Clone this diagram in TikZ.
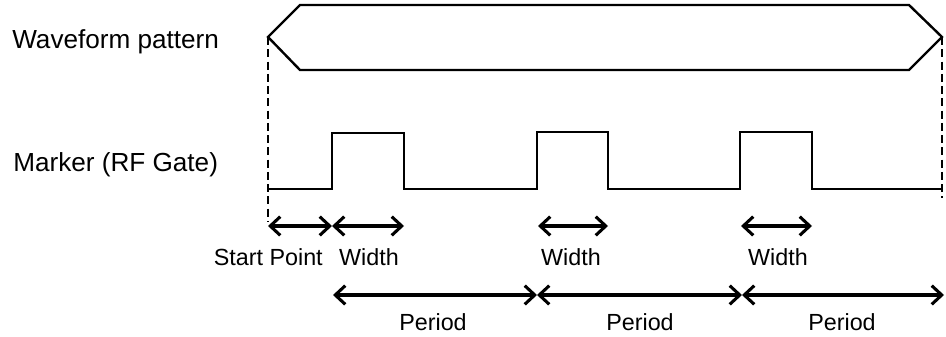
\documentclass[tikz,border=0pt]{standalone}
\usepackage{fontspec}
\setmainfont{Liberation Sans}
\usetikzlibrary{arrows.meta}
\begin{document}
\begin{tikzpicture}[x=0.75pt,y=-0.75pt,
  wave/.style={line width=1.8pt,line join=miter},
  guide/.style={line width=2pt,dash pattern=on 6pt off 3.2pt},
  dim/.style={line width=2.5pt,{Straight Barb[length=7.5pt,width=14pt,line width=2.3pt]}-{Straight Barb[length=7.5pt,width=14pt,line width=2.3pt]}},
  lbl/.style={font=\fontsize{17.5}{21}\selectfont,inner sep=0pt},
  side/.style={font=\fontsize{19.6}{23}\selectfont,inner sep=0pt}]
\useasboundingbox (0,0) rectangle (946,336);
% labels
\node[side,anchor=base west] (wlab) at (12,48) {Waveform pattern};
\node[side,anchor=base west] (mlab) at (13,171) {Marker (RF Gate)};
% waveform hexagon
\coordinate (hl) at (268,37);
\coordinate (hr) at (942,37);
\draw[wave] (hl) -- (300,5) -- (909,5) -- (hr) -- (909,70) -- (300,70) -- cycle;
% marker points
\coordinate (m0) at (268,189);
\coordinate (r1) at (332,189);
\coordinate (f1) at (404,189);
\coordinate (r2) at (537,189);
\coordinate (f2) at (608,189);
\coordinate (r3) at (740,189);
\coordinate (f3) at (812,189);
\coordinate (m1) at (942,189);
\draw[wave] (m0) -- (r1) -- ++(0,-56) -| (f1) -- (r2) -- ++(0,-57) -| (f2) -- (r3) -- ++(0,-57) -| (f3) -- (m1);
% guides
\coordinate (gl) at (268,222);
\coordinate (gr) at (942,198);
\draw[guide] (hl) -- (gl);
\draw[guide] (hr) -- (gr);
% width arrows
\coordinate (a0) at (268,226);
\coordinate (a1) at (332,226);
\coordinate (a2) at (404,226);
\coordinate (b1) at (538,226);
\coordinate (b2) at (608,226);
\coordinate (c1) at (741,226);
\coordinate (c2) at (812,226);
\draw[dim] (a0) -- (a1);
\draw[dim] (a1) -- (a2);
\draw[dim] (b1) -- (b2);
\draw[dim] (c1) -- (c2);
% period arrows
\coordinate (p0) at (333,295);
\coordinate (p1) at (537,295);
\coordinate (p2) at (742,295);
\coordinate (p3) at (944,295);
\draw[dim] (p0) -- (p1);
\draw[dim] (p1) -- (p2);
\draw[dim] (p2) -- (p3);
% texts
\node[lbl,anchor=base east] (tsp) at (323,265) {Start Point};
\node[lbl,anchor=base] (tw1) at (369,265) {Width};
\node[lbl,anchor=base] (tw2) at (571,265) {Width};
\node[lbl,anchor=base] (tw3) at (778,265) {Width};
\node[lbl,anchor=base] (tp1) at (433,330) {Period};
\node[lbl,anchor=base] (tp2) at (640,330) {Period};
\node[lbl,anchor=base] (tp3) at (842,330) {Period};
\end{tikzpicture}
\end{document}
